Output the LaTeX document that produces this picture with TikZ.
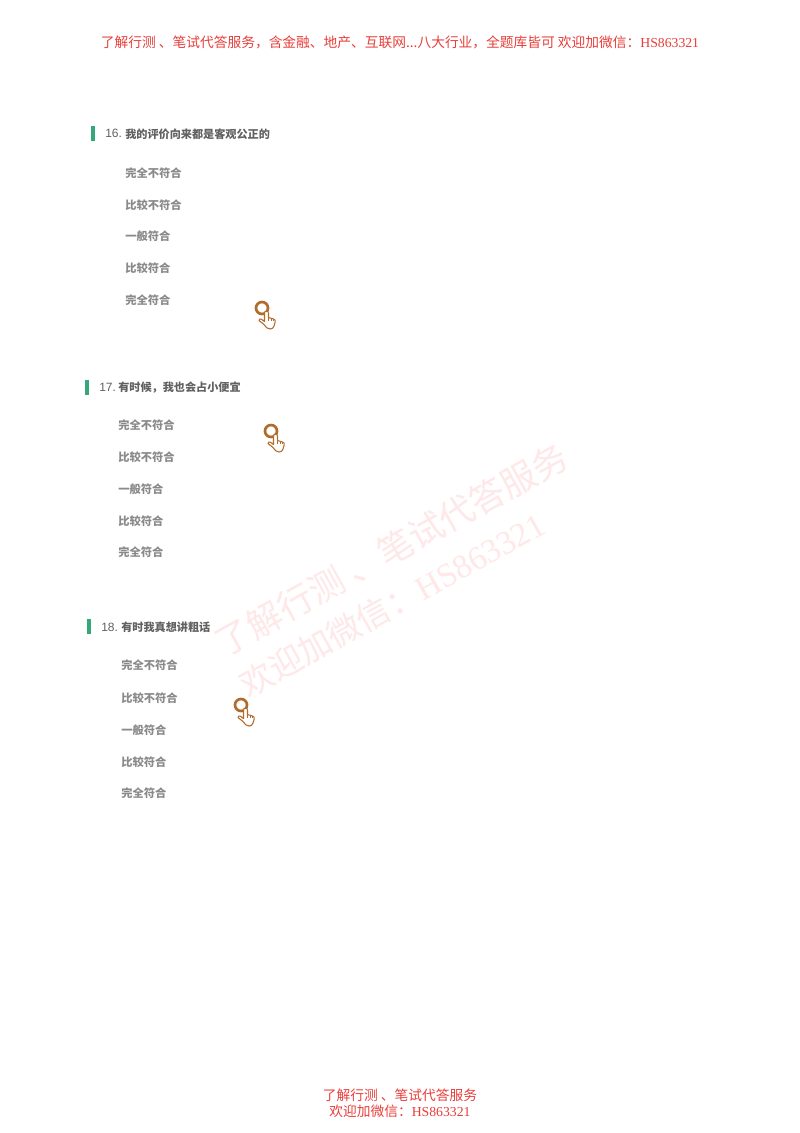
\documentclass[tikz,border=0pt]{standalone}
\usepackage{fontspec}
\setmainfont{Liberation Serif}
\setsansfont{Liberation Sans}
\newfontfamily\cjk{Noto Sans CJK SC}
\definecolor{adred}{RGB}{232,62,58}
\definecolor{markred}{RGB}{254,232,232}
\definecolor{bargreen}{RGB}{52,168,120}
\definecolor{ringbrown}{RGB}{176,108,44}
\tikzset{
	adtext/.style={text=adred, inner sep=0pt, font=\cjk\fontsize{10.3}{12}\selectfont},
	marktext/.style={text=markred, inner sep=0pt, rotate=29, text height=22pt, text depth=3pt, font=\cjk\fontsize{#1}{30}\selectfont},
	numtext/.style={text=black!62, inner sep=0pt, anchor=west, font=\sffamily\fontsize{9}{11}\selectfont},
	asktext/.style={text=black!62, inner sep=0pt, anchor=west, font=\cjk\bfseries\fontsize{8.35}{10}\selectfont},
	opttext/.style={text=black!46, inner sep=0pt, anchor=west, font=\cjk\bfseries\fontsize{8.45}{10}\selectfont},
	greenbar/.style={fill=bargreen, draw=none},
	ringline/.style={line width=2pt, draw=ringbrown},
	handline/.style={line width=0.8pt, draw=ringbrown, fill=white, line join=round}
}
\def\handicon(#1,#2){
	\begin{scope}[shift={(#1,#2)}]
		\draw[ringline] (0, 0) circle (6);
		\draw[handline] (2.5, 5) .. controls (2.5, 2.5) and (6.5, 2.5) .. (6.5, 5) -- (6.5, 9.5) -- (11.5, 11) .. controls (13, 11.5) and (13.5, 12.5) .. (13.2, 14) -- (12, 18) .. controls (11.5, 20) and (10, 21) .. (8, 21) .. controls (5, 21) and (4, 19) .. (2, 16.5) -- (-3, 12.5) .. controls (-3.5, 11) and (-1.5, 10.5) .. (-0.5, 11.3) -- (2.5, 13.5) -- cycle;
		\draw[line width=0.5pt, draw=ringbrown] (6.5, 9.5) -- (6.5, 13);
		\draw[line width=0.5pt, draw=ringbrown] (9, 10.3) -- (9, 13);
		\draw[line width=0.5pt, draw=ringbrown] (11.2, 11) -- (11.2, 13);
	\end{scope}
}

\begin{document}
\begin{tikzpicture}[x=0.75pt, y=-0.75pt]
	%%%%% START %%%%%

	\useasboundingbox[fill=white] (0, 0) rectangle (800, 1133);

	\node[adtext] (adtop) at (400, 42) {了解行测 、笔试代答服务，含金融、地产、互联网...八大行业，全题库皆可 欢迎加微信：{\rmfamily HS863321}};

	\node[marktext=26.5] (markone) at (392, 550) {了解行测 、笔试代答服务};
	\node[marktext=25] (marktwo) at (392, 604) {欢迎加微信：{\rmfamily HS863321}};

	\draw[greenbar] (91, 126) rectangle (95, 141);
	\node[numtext] (numone) at (105, 133) {16.};
	\node[asktext] (askone) at (125, 134.5) {我的评价向来都是客观公正的};
	\node[opttext] (oneA) at (125, 173) {完全不符合};
	\node[opttext] (oneB) at (125, 205) {比较不符合};
	\node[opttext] (oneC) at (125, 236.5) {一般符合};
	\node[opttext] (oneD) at (125, 268.5) {比较符合};
	\node[opttext] (oneE) at (125, 300.5) {完全符合};
	\handicon(262, 308)

	\draw[greenbar] (85, 380) rectangle (89, 395);
	\node[numtext] (numtwo) at (99, 387) {17.};
	\node[asktext] (asktwo) at (118, 387.5) {有时候，我也会占小便宜};
	\node[opttext] (twoA) at (118, 425) {完全不符合};
	\node[opttext] (twoB) at (118, 457) {比较不符合};
	\node[opttext] (twoC) at (118, 489) {一般符合};
	\node[opttext] (twoD) at (118, 521) {比较符合};
	\node[opttext] (twoE) at (118, 552.5) {完全符合};
	\handicon(271, 431)

	\draw[greenbar] (87, 619) rectangle (91, 634);
	\node[numtext] (numthree) at (101, 627) {18.};
	\node[asktext] (askthree) at (121, 627.5) {有时我真想讲粗话};
	\node[opttext] (threeA) at (121, 665.5) {完全不符合};
	\node[opttext] (threeB) at (121, 698) {比较不符合};
	\node[opttext] (threeC) at (121, 730) {一般符合};
	\node[opttext] (threeD) at (121, 762) {比较符合};
	\node[opttext] (threeE) at (121, 793.5) {完全符合};
	\handicon(241, 705)

	\node[adtext] (adbotone) at (400, 1095) {了解行测 、笔试代答服务};
	\node[adtext] (adbottwo) at (400, 1111) {欢迎加微信：{\rmfamily HS863321}};

	%%%%% END %%%%%
\end{tikzpicture}
\end{document}
